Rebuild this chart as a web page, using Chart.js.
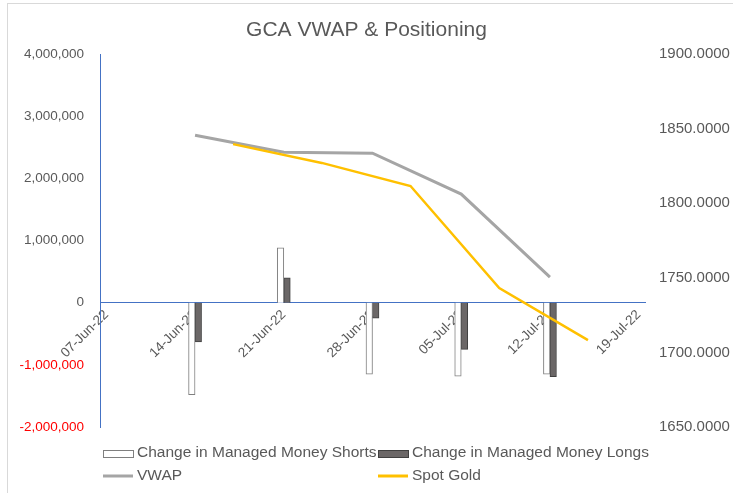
<!DOCTYPE html>
<html>
<head>
<meta charset="utf-8">
<script src="https://cdn.jsdelivr.net/npm/chart.js@4.4.1/dist/chart.umd.min.js"></script>
<style>
  html, body { margin: 0; padding: 0; background: #fff; }
  #wrap { width: 733px; height: 493px; }
</style>
</head>
<body>
<div id="wrap"><canvas id="chartCanvas"></canvas></div>
<script>
// DATA
const tickDates = ['2022-06-07','2022-06-14','2022-06-21','2022-06-28','2022-07-05','2022-07-12','2022-07-19'];
const tickLabels = ['07-Jun-22','14-Jun-22','21-Jun-22','28-Jun-22','05-Jul-22','12-Jul-22','19-Jul-22'];

// weekly positioning report dates (Tuesdays)
const positionDates = ['2022-06-14','2022-06-21','2022-06-28','2022-07-05','2022-07-12'];
const mmShorts = [-1480000, 885000, -1150000, -1180000, -1150000];
const mmLongs  = [-630000, 400000, -250000, -750000, -1190000];
const vwap     = [1845.7, 1834.3, 1833.6, 1806.2, 1750.5];

// spot gold (Fridays)
const goldDates = ['2022-06-17','2022-06-24','2022-07-01','2022-07-08','2022-07-15'];
const spotGold  = [1839.7, 1827.1, 1811.6, 1743.2, 1708.3];

const FONT = '"Liberation Sans", Arial, sans-serif';
const GREY_TXT = '#595959';

const startMs = Date.parse(tickDates[0]);
const toDay = s => Math.round((Date.parse(s) - startMs) / 86400000);
const withCommas = v => (v < 0 ? '-' : '') + String(Math.abs(v)).replace(/\B(?=(\d{3})+(?!\d))/g, ',');

// frame lines (top + left edge) and the 2x2 legend grid
const framePlugin = {
  id: 'frame',
  beforeDraw(chart) {
    const c = chart.ctx;
    c.save();
    c.strokeStyle = '#d9d9d9';
    c.lineWidth = 1;
    c.beginPath();
    c.moveTo(7, 3.5); c.lineTo(733, 3.5);
    c.moveTo(7.5, 3); c.lineTo(7.5, 493);
    c.stroke();
    c.restore();
  }
};

const gridLegend = {
  id: 'gridLegend',
  afterDraw(chart) {
    const c = chart.ctx;
    const cols = [103, 378];
    const rows = [453, 476];
    c.save();
    c.font = '15.5px ' + FONT;
    c.textBaseline = 'middle';
    chart.data.datasets.forEach((ds, i) => {
      const x = cols[i % 2], y = rows[Math.floor(i / 2)];
      if (ds.type === 'bar') {
        c.fillStyle = ds.backgroundColor;
        c.fillRect(x, y - 3, 30, 7);
        c.strokeStyle = ds.borderColor;
        c.lineWidth = 1;
        c.strokeRect(x + 0.5, y - 3 + 0.5, 30, 7);
      } else {
        c.strokeStyle = ds.borderColor;
        c.lineWidth = 3;
        c.beginPath();
        c.moveTo(x, y); c.lineTo(x + 30, y);
        c.stroke();
      }
      c.fillStyle = GREY_TXT;
      c.fillText(ds.label, x + 34, y);
    });
    c.restore();
  }
};

const ctx = document.getElementById('chartCanvas').getContext('2d');

new Chart(ctx, {
  data: {
    datasets: [
      {
        type: 'bar',
        label: 'Change in Managed Money Shorts',
        data: positionDates.map((d, i) => ({ x: toDay(d), y: mmShorts[i] })),
        backgroundColor: '#ffffff',
        borderColor: '#7f7f7f',
        borderWidth: 1,
        barThickness: 6.5,
        yAxisID: 'y',
        order: 2
      },
      {
        type: 'bar',
        label: 'Change in Managed Money Longs',
        data: positionDates.map((d, i) => ({ x: toDay(d), y: mmLongs[i] })),
        backgroundColor: '#6b6767',
        borderColor: '#404040',
        borderWidth: 1,
        barThickness: 6.5,
        yAxisID: 'y',
        order: 2
      },
      {
        type: 'line',
        label: 'VWAP',
        data: positionDates.map((d, i) => ({ x: toDay(d), y: vwap[i] })),
        borderColor: '#a5a5a5',
        backgroundColor: '#a5a5a5',
        borderWidth: 3,
        pointRadius: 0,
        tension: 0,
        yAxisID: 'y1',
        order: 1
      },
      {
        type: 'line',
        label: 'Spot Gold',
        data: goldDates.map((d, i) => ({ x: toDay(d), y: spotGold[i] })),
        borderColor: '#ffc000',
        backgroundColor: '#ffc000',
        borderWidth: 2.5,
        pointRadius: 0,
        tension: 0,
        yAxisID: 'y1',
        order: 0
      }
    ]
  },
  options: {
    responsive: true,
    maintainAspectRatio: false,
    animation: false,
    layout: { padding: { top: 0, left: 0, right: 0, bottom: 66 } },
    plugins: {
      legend: { display: false },
      tooltip: { enabled: false },
      title: {
        display: true,
        text: 'GCA VWAP & Positioning',
        color: GREY_TXT,
        font: { family: FONT, size: 21, weight: 'normal' },
        padding: { top: 18, bottom: 11 }
      }
    },
    scales: {
      x: {
        type: 'linear',
        offset: false,
        min: -0.5,
        max: 42.5,
        position: { y: 0 },
        afterBuildTicks: s => { s.ticks = tickDates.map(d => ({ value: toDay(d) })); },
        afterFit: s => { s.height = 0; },
        grid: { display: false, drawTicks: false, offset: false },
        border: { display: true, color: '#4472c4', width: 1 },
        ticks: {
          autoSkip: false,
          minRotation: 45,
          maxRotation: 45,
          padding: 4,
          color: GREY_TXT,
          font: { family: FONT, size: 13.5 },
          callback: (v, i) => tickLabels[i]
        }
      },
      y: {
        position: 'left',
        min: -2000000,
        max: 4000000,
        afterFit: s => { s.width = 100; },
        grid: { display: false, drawTicks: false },
        border: { display: true, color: '#4472c4', width: 1 },
        ticks: {
          stepSize: 1000000,
          padding: 16,
          color: c => c.tick.value < 0 ? '#ff0000' : GREY_TXT,
          font: { family: FONT, size: 13.5 },
          callback: v => withCommas(v)
        }
      },
      y1: {
        position: 'right',
        min: 1650,
        max: 1900,
        afterFit: s => { s.width = 88; },
        grid: { display: false, drawTicks: false },
        border: { display: false },
        ticks: {
          stepSize: 50,
          padding: 14,
          color: GREY_TXT,
          font: { family: FONT, size: 15 },
          callback: v => v.toFixed(4)
        }
      }
    }
  },
  plugins: [framePlugin, gridLegend]
});
</script>
</body>
</html>
